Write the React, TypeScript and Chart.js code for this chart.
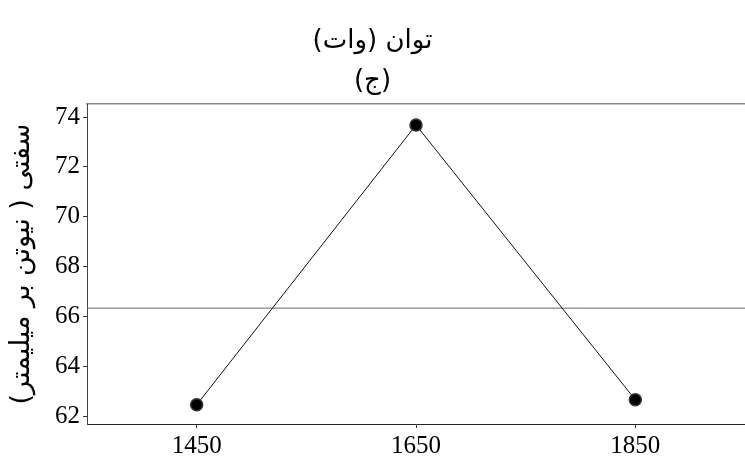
import React, { useEffect, useRef } from "react";
import { Chart, registerables } from "chart.js";

Chart.register(...registerables);

const titleLines = ["توان (وات)", "(ج)"];
const yAxisTitle = "سفتی ( نیوتن بر میلیمتر)";
const categories = [1450, 1650, 1850];
const stiffness = [62.45, 73.68, 62.65];
const meanLine = 66.33;
const xRange = [1350, 1950];
const yTicks = [62, 64, 66, 68, 70, 72, 74];
const yRange = [61.68, 74.52];

export default function App() {
  const ref = useRef<HTMLCanvasElement | null>(null);
  useEffect(() => {
    if (!ref.current) return;
    const chart = new Chart(ref.current, {
      type: "line",
      data: {
        datasets: [
          {
            data: categories.map((c, i) => ({ x: c, y: stiffness[i] })),
            borderColor: "#111",
            borderWidth: 1,
            pointRadius: 6,
            pointBackgroundColor: "#000",
            pointBorderColor: "#333",
            pointBorderWidth: 1.5,
            tension: 0,
          },
          {
            data: xRange.map((x) => ({ x, y: meanLine })),
            borderColor: "#666",
            borderWidth: 1,
            pointRadius: 0,
          },
        ],
      },
      options: {
        animation: false,
        responsive: false,
        maintainAspectRatio: false,
        layout: { autoPadding: false, padding: { left: 0, right: 0, top: 0, bottom: 0 } },
        plugins: {
          legend: { display: false },
          tooltip: { enabled: false },
          title: {
            display: true,
            text: titleLines,
            color: "#000",
            font: { family: "DejaVu Sans", size: 26, lineHeight: 1.55, weight: "normal" },
            padding: { top: 21, bottom: 2.5 },
          },
        },
        scales: {
          x: {
            type: "linear",
            min: xRange[0],
            max: xRange[1],
            afterBuildTicks: (axis: any) => {
              axis.ticks = categories.map((v) => ({ value: v }));
            },
            afterFit: (s: any) => {
              s.height = 38;
            },
            grid: { drawOnChartArea: false, drawTicks: true, tickLength: 4, color: "#333" },
            border: { color: "#222", width: 1 },
            ticks: {
              color: "#000",
              padding: 3,
              maxRotation: 0,
              font: { family: "Liberation Serif", size: 25 },
              callback: (v: any) => String(v),
            },
          },
          x2: {
            type: "linear",
            position: "top",
            min: xRange[0],
            max: xRange[1],
            afterFit: (s: any) => {
              s.height = 0;
            },
            grid: { display: false },
            border: { display: true, color: "#888", width: 1.5 },
            ticks: { display: false },
          },
          y: {
            min: yRange[0],
            max: yRange[1],
            afterBuildTicks: (axis: any) => {
              axis.ticks = yTicks.map((v) => ({ value: v }));
            },
            afterFit: (s: any) => {
              s.width = 87;
            },
            grid: { drawOnChartArea: false, drawTicks: true, tickLength: 4, color: "#333" },
            border: { color: "#444", width: 1 },
            title: {
              display: true,
              text: yAxisTitle,
              color: "#000",
              font: { family: "DejaVu Sans", size: 27 },
              padding: { top: 6, bottom: 2 },
            },
            ticks: {
              color: "#000",
              padding: 3,
              font: { family: "Liberation Serif", size: 25 },
              callback: (v: any) => String(v),
            },
          },
        },
      },
    });
    return () => chart.destroy();
  }, []);
  return (
    <div style={{ position: "fixed", left: 0, top: 0, width: 745, height: 462, background: "#fff" }}>
      <canvas ref={ref} width={745} height={462} dir="rtl" />
    </div>
  );
}
